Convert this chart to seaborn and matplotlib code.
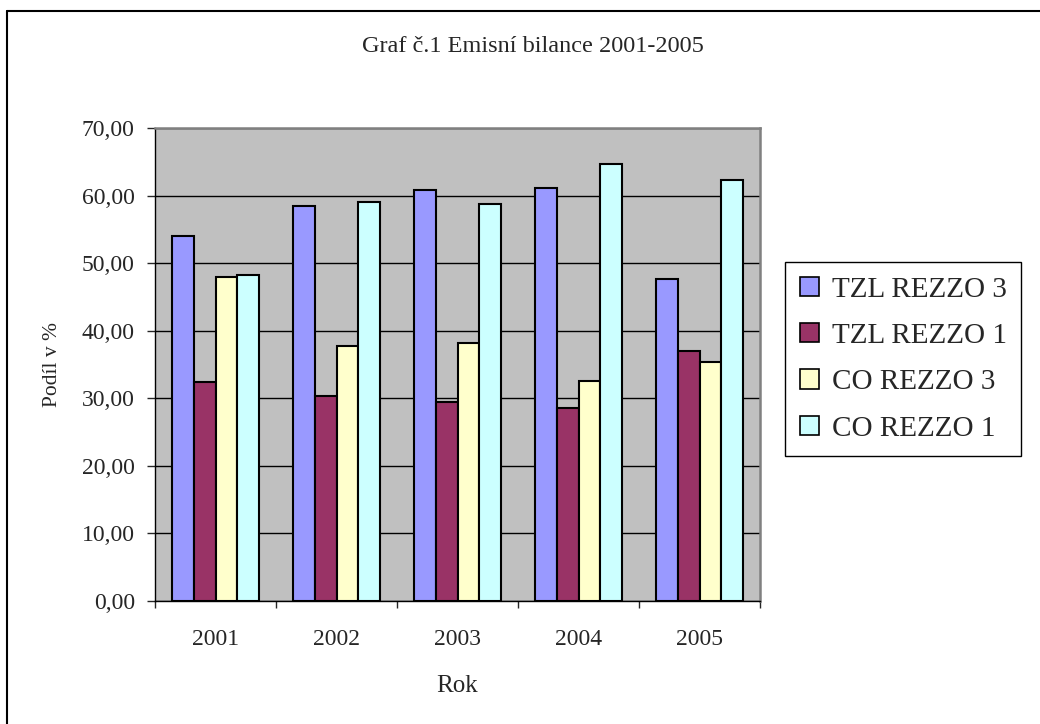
import matplotlib
matplotlib.use("Agg")
import matplotlib.pyplot as plt
import matplotlib.patches as mpatches
import matplotlib.lines as mlines
import seaborn as sns
import pandas as pd
import numpy as np

# Data
years = ["2001", "2002", "2003", "2004", "2005"]
series = ["TZL REZZO 3", "TZL REZZO 1", "CO REZZO 3", "CO REZZO 1"]
tzl_rezzo3 = [54.0, 58.5, 60.8, 61.1, 47.7]
tzl_rezzo1 = [32.4, 30.3, 29.5, 28.5, 37.0]
co_rezzo3 = [47.9, 37.7, 38.2, 32.6, 35.3]
co_rezzo1 = [48.3, 59.1, 58.7, 64.6, 62.3]
colors = ["#9999FF", "#993366", "#FFFFCC", "#CCFFFF"]

rows = []
for name, vals in zip(series, [tzl_rezzo3, tzl_rezzo1, co_rezzo3, co_rezzo1]):
    for y, v in zip(years, vals):
        rows.append({"Rok": y, "Serie": name, "Hodnota": v})
df = pd.DataFrame(rows)

sns.set_style("white")
plt.rcParams["font.family"] = ["Liberation Serif", "DejaVu Serif"]

W, H = 1040, 724
fig = plt.figure(figsize=(W / 100, H / 100), dpi=100)
ax = fig.add_axes([155 / W, 1 - 601 / H, 605 / W, 473 / H])
ax.set_facecolor("#C0C0C0")

sns.barplot(data=df, x="Rok", y="Hodnota", hue="Serie", hue_order=series,
            palette=colors, edgecolor="black", linewidth=1.5, width=0.727,
            saturation=1, ax=ax, zorder=3)

ax.set_ylim(0, 70)
ax.set_xlim(-0.5, 4.5)
ax.set_yticks(np.arange(0, 71, 10))
ax.set_yticklabels([f"{v:.2f}".replace(".", ",") for v in np.arange(0, 71, 10)],
                   fontsize=17)
ax.yaxis.grid(True, color="black", linewidth=1, zorder=0)
ax.set_axisbelow(True)
ax.tick_params(axis="y", direction="out", length=6, width=1, left=True, pad=8.5)

ax.set_xticks(range(5))
ax.set_xticklabels(years, fontsize=17)
ax.tick_params(axis="x", which="major", length=0, pad=20)
ax.set_xticks(np.arange(-0.5, 5, 1), minor=True)
ax.tick_params(axis="x", which="minor", direction="out", length=5, width=1, bottom=True)

for s in ["left", "bottom"]:
    ax.spines[s].set_color("black")
    ax.spines[s].set_linewidth(1)
for s in ["top", "right"]:
    ax.spines[s].set_color("#808080")
    ax.spines[s].set_linewidth(1.8)

ax.set_xlabel("Rok", fontsize=18, labelpad=18)
ax.set_ylabel("Podíl v %", fontsize=15.5, labelpad=14)

handles = [mpatches.Patch(facecolor=c, edgecolor="black", linewidth=1.2, label=n)
           for c, n in zip(colors, series)]
ax.legend(handles=handles, loc="upper left", bbox_to_anchor=(785 / W, 1 - 262 / H),
          bbox_transform=fig.transFigure, fontsize=21, frameon=True, fancybox=False,
          edgecolor="black", framealpha=1, handlelength=0.65, handleheight=0.65,
          handletextpad=0.45, labelspacing=0.7, borderpad=0.5, borderaxespad=0)
ax.get_legend().get_frame().set_linewidth(1)

fig.text(533 / W, 1 - 47 / H, "Graf č.1 Emisní bilance 2001-2005", ha="center",
         va="center", fontsize=17.5)

# outer chart border (only top and left edges are inside the image)
fig.lines.append(mlines.Line2D([7 / W, 1], [1 - 11 / H, 1 - 11 / H],
                               transform=fig.transFigure, color="black", linewidth=1.5))
fig.lines.append(mlines.Line2D([7 / W, 7 / W], [0, 1 - 11 / H],
                               transform=fig.transFigure, color="black", linewidth=1.5))

fig.savefig("out.png", dpi=100)
